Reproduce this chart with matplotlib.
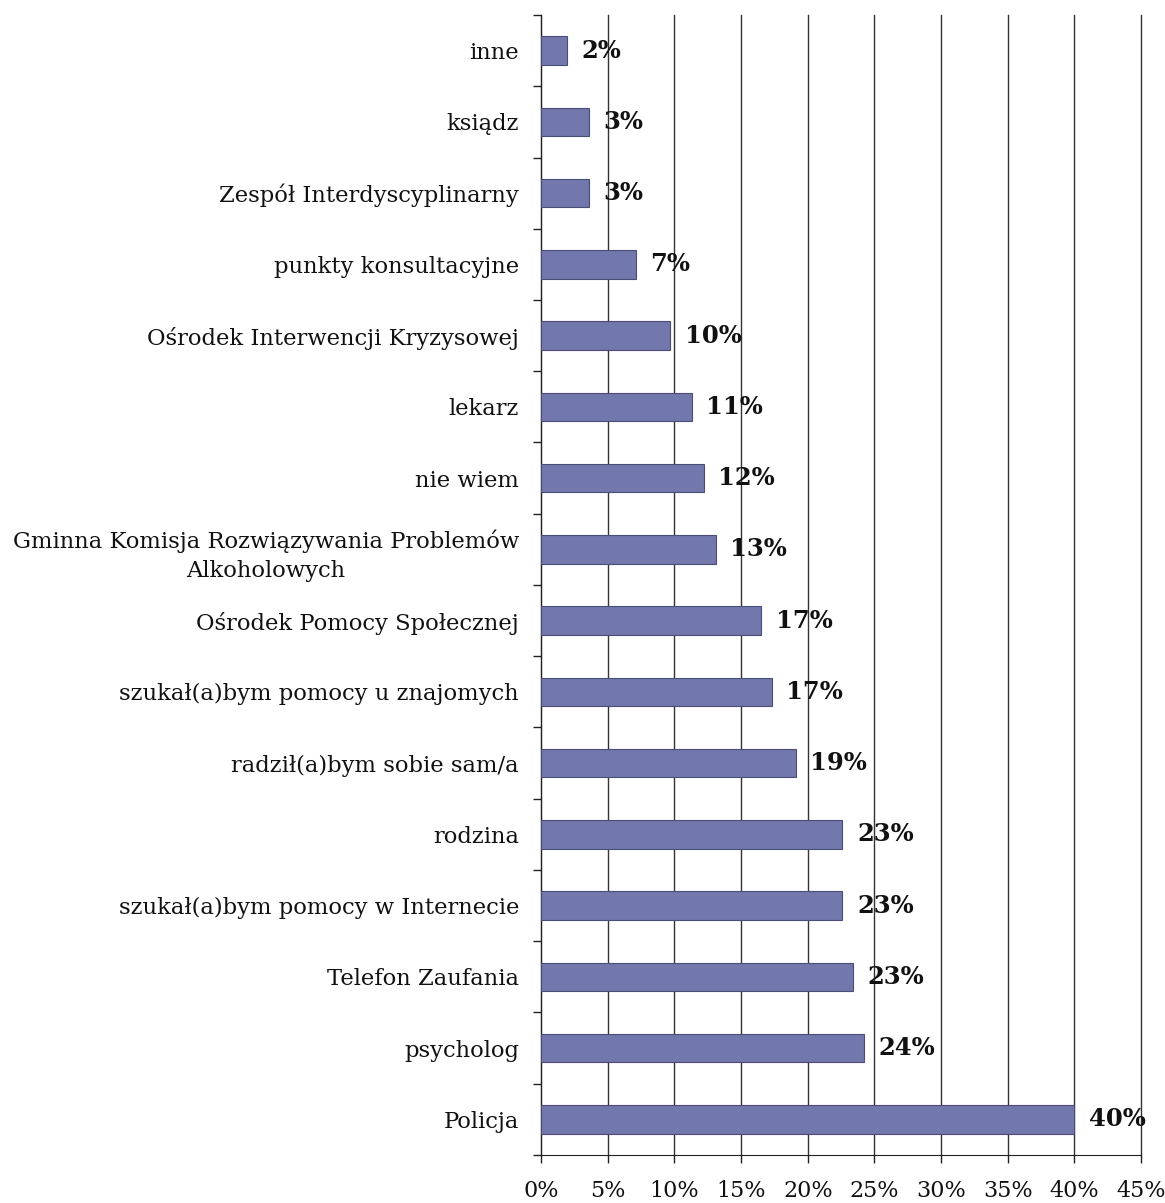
import matplotlib
matplotlib.use("Agg")
import matplotlib.pyplot as plt
import numpy as np

categories = [
    "inne",
    "ksiądz",
    "Zespół Interdyscyplinarny",
    "punkty konsultacyjne",
    "Ośrodek Interwencji Kryzysowej",
    "lekarz",
    "nie wiem",
    "Gminna Komisja Rozwiązywania Problemów\nAlkoholowych",
    "Ośrodek Pomocy Społecznej",
    "szukał(a)bym pomocy u znajomych",
    "radził(a)bym sobie sam/a",
    "rodzina",
    "szukał(a)bym pomocy w Internecie",
    "Telefon Zaufania",
    "psycholog",
    "Policja",
]
values = [1.95, 3.6, 3.6, 7.1, 9.7, 11.3, 12.2, 13.1, 16.5, 17.3, 19.1, 22.6, 22.6, 23.4, 24.2, 40.0]
value_labels = ["2%", "3%", "3%", "7%", "10%", "11%", "12%", "13%", "17%", "17%",
                "19%", "23%", "23%", "23%", "24%", "40%"]
x_ticks = [0, 5, 10, 15, 20, 25, 30, 35, 40, 45]
x_tick_labels = ["0%", "5%", "10%", "15%", "20%", "25%", "30%", "35%", "40%", "45%"]

plt.rcParams['font.family'] = ['DejaVu Serif']

fig = plt.figure(figsize=(11.65, 12.03), dpi=100)
ax = fig.add_axes([0.4645, 0.04, 0.515, 0.9475])

y = np.arange(len(categories))
ax.barh(y, values, height=0.4, color="#7378ac", edgecolor="#4a4d78", linewidth=0.8, zorder=3)

for yi, v, lab in zip(y, values, value_labels):
    ax.text(v + 1.1, yi, lab, va="center", ha="left", fontsize=17.5, fontweight="bold",
            color="#111111", zorder=4)

ax.set_ylim(len(categories) - 0.5, -0.5)
ax.set_xlim(0, 45)
ax.set_xticks(x_ticks)
ax.set_xticklabels(x_tick_labels, fontsize=16, color="#111111")
ax.set_yticks(y)
ax.set_yticklabels(categories, fontsize=16.3, color="#111111")
for lbl in ax.get_yticklabels():
    lbl.set_multialignment("center")
    lbl.set_linespacing(1.45)
ax.set_yticks(np.arange(-0.5, len(categories) + 0.5, 1), minor=True)
ax.tick_params(axis="y", which="major", length=0, pad=16)
ax.tick_params(axis="y", which="minor", length=6, width=1, color="#222222")
ax.tick_params(axis="x", which="major", length=6, width=1, color="#222222", pad=12)

ax.grid(axis="x", color="#333333", linewidth=1.0, zorder=0)
for gl in ax.get_xgridlines():
    gl.set_clip_on(False)
for s in ["top", "right"]:
    ax.spines[s].set_visible(False)
ax.spines["left"].set_color("#222222")
ax.spines["bottom"].set_color("#222222")

fig.savefig("out.png", dpi=100, facecolor="white")
